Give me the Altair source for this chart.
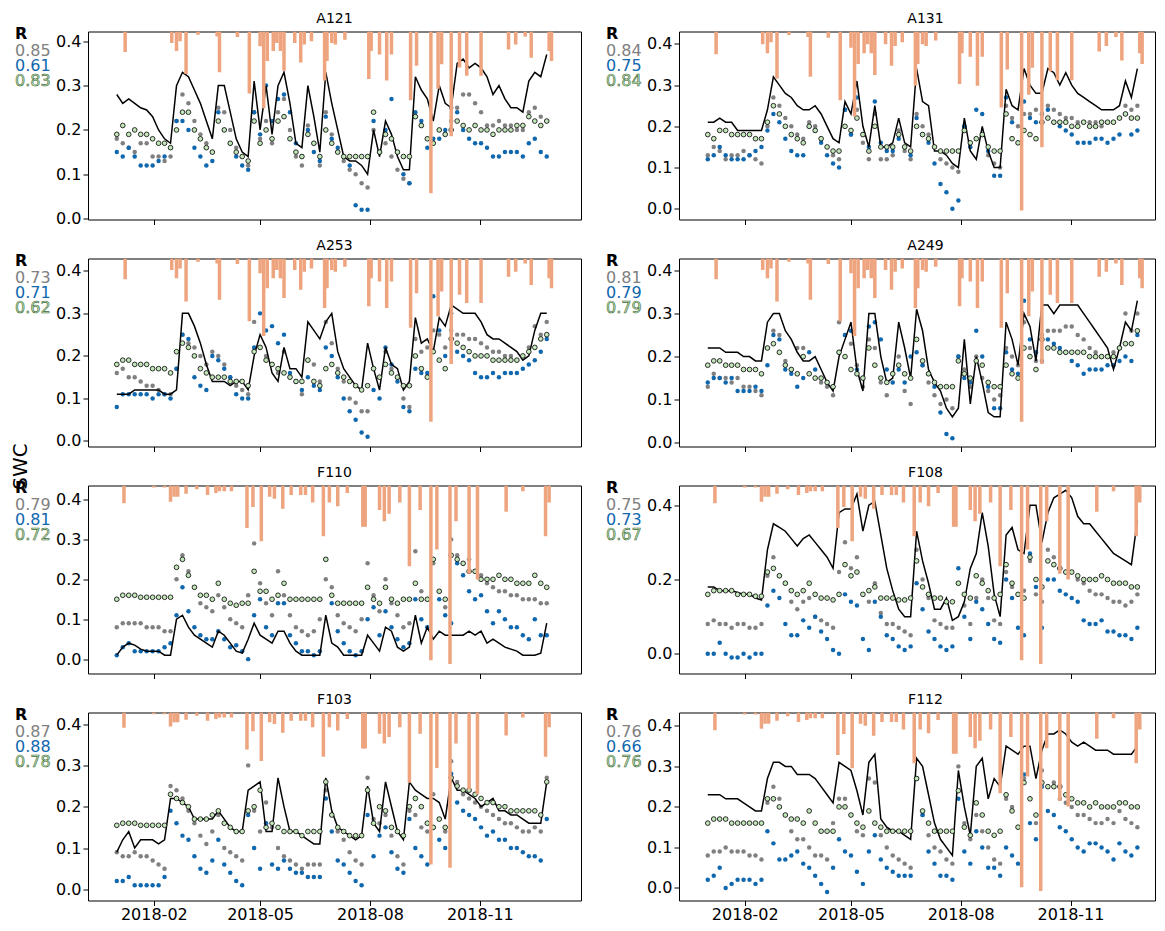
import altair as alt
import pandas as pd

# ---------------- sampling days (days after 2018-01-01) ----------------
DAYS = list(range(0, 361, 5))
START = pd.Timestamp("2018-01-01")

# ---------------- A121 ----------------
a121_line = [.28,.26,.27,.26,.25,.245,.23,.20,.18,.17, .30,.33,.32,.29,.26,.22,.18,.30,.30,.24,
             .18,.15,.14,.31,.20,.30,.19,.30,.33,.26, .17,.16,.30,.23,.15,.33,.26,.20,.14,.13,
             .13,.12,.10,.20,.14,.22,.19,.14,.11,.11, .32,.29,.27,.22,.30,.26,.25,.35,.36,.34,
             .35,.34,.32,.28,.30,.27,.25,.25,.24,.31, .33,.32,.37]
a121_grey = [.18,.17,.16,.15,.17,.17,.14,.14,.13,.14, .22,.28,.26,.22,.19,.17,.15,.25,.24,.20,
             .16,.14,.12,.24,.18,.22,.17,.24,.27,.20, .14,.12,.21,.17,.12,.24,.19,.15,.13,.11,
             .10,.08,.07,.20,.15,.17,.14,.11,.09,.08, .23,.21,.18,.17,.20,.19,.22,.25,.28,.28,
             .26,.24,.21,.21,.22,.21,.21,.20,.20,.24, .25,.23,.22]
a121_blue = [.15,.14,.16,.14,.12,.12,.12,.13,.14,.16, .22,.22,.20,.16,.14,.12,.13,.24,.20,.17,
             .14,.12,.11,.24,.19,.30,.22,.27,.28,.24, .17,.14,.20,.15,.13,.23,.18,.16,.14,.12,
             .03,.02,.02,.22,.15,.20,.27,.15,.10,.08, .24,.22,.16,.18,.18,.20,.25,.24,.20,.18,
             .17,.17,.16,.14,.14,.15,.15,.15,.14,.17, .18,.15,.14]
a121_green = [.19,.21,.19,.20,.19,.19,.18,.17,.17,.16, .20,.24,.24,.20,.18,.16,.15,.22,.20,.17,
              .15,.14,.13,.22,.17,.20,.18,.22,.23,.18, .15,.14,.19,.17,.14,.20,.17,.15,.14,.14,
              .14,.14,.14,.24,.15,.19,.18,.15,.14,.14, .23,.21,.18,.17,.20,.19,.20,.22,.21,.20,
              .21,.20,.20,.19,.20,.20,.20,.21,.21,.23, .22,.21,.22]

# ---------------- A131 ----------------
a131_line = [.21,.21,.22,.21,.21,.19,.19,.19,.19,.19, .24,.32,.30,.28,.27,.25,.24,.24,.25,.23,
             .20,.17,.16,.26,.23,.31,.20,.15,.25, .15,.15,.16,.22,.16,.15,.34,.26,.25,.14,
             .14,.13,.11,.10,.22,.14,.12,.20,.14,.10, .10,.29,.25,.24,.34,.30,.28,.28,.34,.33,
             .30,.33,.30,.28,.27,.26,.25,.24,.24,.24, .25,.31,.27,.34]
a131_grey = [.13,.15,.14,.12,.13,.13,.14,.13,.12,.11, .20,.27,.25,.22,.20,.18,.17,.21,.20,.17,
             .15,.13,.12,.24,.18,.24,.16,.12,.23, .12,.12,.13,.19,.14,.12,.23,.20,.18,.15,
             .12,.11,.10,.09,.20,.15,.17,.18,.13,.11, .10,.25,.22,.20,.23,.23,.24,.23,.25,.24,
             .23,.22,.22,.21,.21,.21,.21,.20,.21,.21, .22,.25,.24,.25]
a131_blue = [.12,.13,.15,.13,.12,.12,.12,.13,.14,.15, .19,.23,.21,.17,.14,.13,.13,.20,.19,.16,
             .13,.11,.10,.24,.18,.27,.18,.15,.26, .16,.14,.14,.17,.15,.13,.22,.18,.16,.11,
             .06,.04,.00,.02,.20,.15,.24,.23,.14,.08, .08,.27,.21,.16,.26,.22,.21,.23,.24,.21,
             .20,.19,.18,.16,.16,.16,.17,.17,.16,.17, .18,.23,.18,.19]
a131_green = [.18,.17,.19,.19,.18,.18,.18,.18,.17,.17, .21,.25,.23,.20,.18,.17,.16,.20,.19,.17,
              .15,.14,.14,.20,.19,.22,.18,.14,.20, .15,.15,.15,.18,.15,.14,.20,.18,.17,.15,
              .14,.14,.14,.14,.19,.16,.17,.18,.15,.14, .14,.23,.17,.16,.19,.18,.17,.21,.22,.21,
              .21,.21,.20,.20,.21,.20,.20,.21,.21,.21, .22,.23,.22,.22]

# ---------------- A253 ----------------
a253_line = [.11,.11,.11,.12,.12,.12,.12,.12,.11,.11, .12,.30,.30,.27,.23,.18,.14,.14,.14,.13,
             .14,.14,.12,.20,.25,.22,.16,.14,.22,.17, .17,.15,.28,.26,.24,.28,.30,.21,.17,.15,
             .13,.12,.23,.17,.12,.22,.18,.17,.12,.14, .29,.23,.24,.21,.29,.27,.32,.31,.30,.30,
             .30,.28,.25,.24,.24,.23,.22,.21,.19,.20, .26,.30,.30]
a253_grey = [.16,.17,.15,.15,.14,.13,.13,.12,.11,.11, .17,.25,.23,.22,.20,.18,.21,.20,.18,.15,
             .13,.12,.11,.28,.22,.20,.18,.16,.21,.15, .14,.11,.19,.18,.14,.28,.23,.17,.14,.10,
             .09,.07,.07,.17,.15,.21,.17,.15,.10,.08, .24,.21,.22,.26,.25,.22,.26,.25,.25,.24,
             .24,.23,.22,.21,.21,.20,.20,.19,.20,.22, .27,.25,.28]
a253_blue = [.08,.11,.11,.11,.11,.11,.10,.11,.11,.10, .17,.25,.24,.15,.13,.12,.20,.19,.17,.15,
             .11,.10,.10,.22,.30,.26,.27,.23,.25,.16, .14,.12,.15,.13,.12,.22,.20,.15,.10,.07,
             .05,.02,.01,.12,.10,.22,.18,.14,.08,.07, .17,.16,.16,.34,.26,.20,.30,.21,.20,.19,
             .16,.15,.15,.16,.15,.16,.16,.16,.17,.18, .19,.21,.24]
a253_green = [.18,.19,.19,.18,.18,.18,.17,.17,.17,.16, .21,.23,.22,.20,.17,.16,.15,.15,.15,.14,
              .14,.14,.13,.21,.22,.19,.18,.17,.16,.15, .14,.14,.19,.14,.13,.17,.18,.16,.15,.14,
              .13,.12,.13,.17,.15,.18,.16,.15,.13,.13, .20,.17,.15,.21,.19,.17,.24,.23,.22,.21,
              .20,.20,.20,.19,.19,.19,.19,.19,.20,.21, .22,.24,.25]

# ---------------- A249 ----------------
a249_line = [.22,.22,.22,.21,.21,.21,.20,.20,.19,.19, .28,.30,.30,.26,.24,.21,.19,.19,.20,.17,
             .14,.12,.20,.24,.28,.17,.12,.30,.30,.20, .14,.15,.28,.22,.15,.31,.26,.17,.14,.12,
             .08,.06,.08,.24,.09,.20,.14,.07,.06,.06, .28,.24,.18,.30,.27,.19,.32,.32,.30,.32,
             .32,.32,.32,.30,.28,.26,.24,.22,.17,.22, .28,.26,.33]
a249_grey = [.13,.16,.15,.15,.14,.15,.13,.13,.12,.11, .22,.26,.25,.19,.17,.22,.22,.16,.15,.14,
             .13,.11,.28,.25,.23,.18,.13,.24,.22,.14, .11,.16,.20,.12,.09,.24,.18,.14,.11,.09,
             .10,.08,.20,.17,.13,.20,.15,.12,.10,.11, .22,.20,.18,.28,.22,.19,.25,.26,.26,.26,
             .27,.27,.25,.24,.22,.21,.20,.20,.21,.22, .30,.26,.30]
a249_blue = [.14,.15,.15,.14,.15,.12,.12,.12,.13,.12, .18,.25,.24,.17,.16,.13,.15,.21,.17,.15,
             .14,.13,.21,.25,.26,.17,.15,.27,.28,.24, .17,.14,.17,.14,.20,.21,.18,.16,.13,.07,
             .02,.01,.20,.15,.14,.26,.20,.13,.08,.08, .21,.17,.16,.33,.24,.21,.19,.24,.23,.22,
             .21,.19,.18,.16,.17,.17,.17,.18,.18,.19, .20,.19,.25]
a249_green = [.18,.19,.19,.18,.18,.18,.17,.17,.17,.16, .22,.23,.21,.18,.17,.16,.20,.16,.15,.15,
              .14,.13,.21,.20,.17,.16,.15,.22,.18,.15, .14,.16,.18,.16,.15,.24,.19,.16,.14,.13,
              .13,.13,.19,.16,.15,.19,.18,.14,.13,.13, .18,.16,.15,.22,.20,.17,.24,.22,.22,.21,
              .21,.21,.21,.21,.20,.20,.20,.20,.20,.22, .23,.23,.26]

# ---------------- F110 ----------------
f110_line = [.01,.03,.04,.035,.025,.02,.02,.02,.01,.01, .10,.11,.08,.06,.05,.04,.03,.07,.06,.04,
             .02,.015,.05,.09,.06,.05,.04,.07,.07,.04, .02,.01,.01,.01,.01,.11,.04,.03,.01,.01,
             .01,.01,.06,.04,.02,.08,.07,.03,.02,.03, .11,.04,.08,.05,.07,.06,.06,.06,.06,.07,
             .06,.07,.04,.05,.04,.03,.025,.02,.01,.01, .01,.015,.09]
f110_grey = [.08,.09,.09,.09,.09,.08,.08,.08,.07,.07, .20,.26,.22,.18,.14,.13,.12,.16,.13,.10,
             .09,.08,.16,.29,.19,.14,.11,.22,.16,.11, .08,.07,.06,.07,.10,.20,.18,.11,.09,.08,
             .07,.10,.24,.16,.12,.20,.14,.11,.08,.09, .27,.17,.15,.24,.17,.13,.30,.26,.24,.25,
             .22,.21,.19,.18,.17,.17,.16,.16,.15,.15, .15,.14,.14]
f110_blue = [.01,.03,.04,.02,.02,.02,.02,.02,.03,.04, .11,.18,.12,.08,.06,.05,.05,.07,.05,.03,
             .035,.02,.00,.11,.15,.08,.06,.14,.14,.06, .04,.02,.02,.01,.02,.25,.14,.07,.04,.02,
             .01,.02,.10,.13,.06,.12,.08,.05,.03,.04, .15,.10,.08,.25,.15,.11,.09,.24,.21,.17,
             .15,.16,.12,.09,.12,.10,.08,.08,.06,.05, .10,.06,.06]
f110_green = [.15,.16,.16,.16,.155,.155,.155,.155,.155,.155, .23,.25,.21,.18,.16,.16,.15,.19,.15,.14,
              .135,.14,.14,.22,.17,.17,.15,.16,.19,.15, .15,.15,.15,.15,.15,.25,.16,.14,.14,.14,
              .14,.14,.18,.15,.14,.18,.15,.14,.15,.15, .19,.15,.15,.25,.17,.15,.26,.25,.24,.22,
              .22,.20,.20,.20,.21,.20,.20,.19,.19,.19, .21,.19,.18]

# ---------------- F108 ----------------
f108_line = [.18,.18,.17,.17,.17,.165,.16,.16,.15,.145, .28,.35,.34,.33,.31,.29,.31,.32,.30,.28,
             .26,.23,.38,.39,.39,.43,.33,.40, .41,.32,.23,.17,.12,.10,.10,.33,.25,.19,
             .12,.12,.15,.09,.10,.14,.23,.27,.38,.29, .16,.10,.32,.34,.28,.27,.40,.40,.30,.38,
             .42,.43,.44,.42,.37,.35,.35,.33,.31,.29, .27,.26,.25,.24,.36]
f108_grey = [.08,.09,.08,.08,.07,.08,.08,.07,.07,.08, .21,.26,.21,.19,.14,.12,.14,.15,.10,.09,
             .08,.07,.22,.30,.23,.26,.16,.14, .19,.11,.08,.08,.07,.06,.05,.28,.20,.15,
             .09,.08,.07,.07,.19,.13,.08,.15,.20,.15, .09,.08,.22,.18,.16,.17,.25,.16,.14,.28,
             .26,.23,.22,.22,.20,.19,.17,.16,.16,.15, .14,.14,.13,.14,.16]
f108_blue = [.00,.00,.03,.00,-.01,-.01,.00,-.01,.00,.00, .13,.17,.15,.08,.05,.05,.09,.07,.10,.06,
             .04,.01,.00,.16,.14,.13,.04,.01, .14,.10,.05,.04,.02,.01,.02,.19,.12,.06,
             .04,.02,.01,.02,.23,.10,.04,.14,.12,.08, .04,.03,.20,.15,.07,.05,.27,.18,.07,.20,
             .20,.17,.16,.15,.14,.09,.08,.08,.09,.06, .06,.05,.05,.04,.07]
f108_green = [.16,.17,.17,.17,.17,.16,.16,.16,.155,.155, .22,.23,.21,.19,.17,.16,.17,.19,.16,.15,
              .15,.145,.16,.24,.21,.22,.16,.17, .18,.15,.15,.15,.145,.145,.15,.25,.18,.16,
              .15,.15,.14,.14,.19,.16,.15,.21,.19,.17, .15,.16,.24,.19,.16,.15,.26,.20,.18,.25,
              .24,.23,.22,.22,.21,.20,.20,.20,.21,.20, .19,.19,.19,.18,.18]

# ---------------- F103 ----------------
f103_line = [.09,.12,.14,.10,.12,.12,.12,.11,.12,.22, .22,.21,.20,.17,.17,.17,.17,.19,.17,.15,
             .14,.14,.24,.25,.26,.14,.14,.27,.20,.14, .14,.13,.12,.11,.11,.27,.19,.15,.14,.13,
             .12,.13,.25,.16,.14,.26,.20,.14,.12,.26, .24,.23,.22,.22,.21,.17,.27,.24,.24,.23,
             .22,.20,.21,.22,.19,.19,.18,.18,.17,.16, .16,.16,.26]
f103_grey = [.09,.08,.08,.09,.08,.08,.07,.06,.05,.25, .24,.22,.19,.16,.13,.11,.14,.18,.10,.09,
             .08,.07,.30,.19,.14,.21,.15,.10,.08,.07, .06,.05,.06,.06,.06,.24,.18,.14,.12,.09,
             .07,.06,.27,.17,.16,.18,.13,.08,.06,.19, .18,.15,.14,.23,.17,.14,.31,.26,.23,.22,
             .21,.20,.19,.18,.17,.16,.16,.15,.14,.14, .15,.14,.27]
f103_blue = [.02,.02,.03,.01,.01,.01,.01,.01,.03,.19, .16,.13,.12,.08,.05,.04,.07,.12,.06,.04,
             .02,.01,.18,.10,.05,.16,.06,.05,.07,.05, .04,.04,.03,.03,.03,.22,.14,.07,.06,.04,
             .02,.01,.18,.08,.13,.15,.09,.05,.04,.17, .10,.08,.06,.15,.12,.10,.28,.21,.19,.18,
             .17,.15,.13,.14,.12,.12,.10,.10,.09,.08, .08,.07,.17]
f103_green = [.155,.16,.16,.16,.155,.155,.155,.155,.155,.23, .22,.21,.20,.17,.17,.17,.18,.19,.16,.15,
              .14,.14,.19,.20,.24,.15,.16,.15,.14,.14, .14,.13,.14,.14,.14,.26,.18,.15,.14,.13,
              .13,.13,.24,.16,.20,.19,.15,.14,.13,.20, .22,.20,.16,.15,.17,.15,.27,.25,.24,.24,
              .23,.22,.21,.21,.20,.20,.19,.19,.19,.19, .19,.18,.26]

# ---------------- F112 ----------------
f112_line = [.23,.23,.23,.22,.22,.22,.21,.20,.19,.19, .27,.31,.31,.30,.30,.28,.28,.28,.27,.25,
             .23,.21,.31,.30,.29,.24,.18,.31,.33,.17, .15,.14,.14,.13,.12,.32,.30,.23,.16,.12,
             .10,.08,.29,.20,.13,.30,.32,.22,.27,.25, .35,.34,.33,.35,.35,.27,.34,.38,.38,.39,
             .38,.36,.35,.36,.35,.34,.34,.34,.33,.33, .33,.33,.35]
f112_grey = [.08,.09,.09,.10,.09,.09,.09,.08,.08,.07, .21,.25,.22,.18,.14,.12,.12,.10,.08,.08,
             .07,.16,.22,.22,.18,.14,.13,.27,.26,.13, .10,.08,.07,.06,.05,.27,.18,.13,.10,.09,
             .07,.06,.30,.16,.12,.18,.14,.10,.07,.06, .22,.20,.15,.27,.22,.16,.29,.25,.26,.22,
             .21,.20,.18,.18,.17,.16,.16,.17,.16,.19, .17,.16,.15]
f112_blue = [.02,.03,.05,.00,.01,.02,.02,.02,.01,.02, .14,.11,.07,.07,.08,.09,.06,.05,.03,.01,
             -.01,.05,.12,.09,.08,.04,.01,.09,.13,.07, .05,.04,.03,.03,.03,.27,.18,.09,.06,.03,
             .03,.02,.22,.09,.06,.14,.10,.05,.05,.03, .10,.08,.06,.28,.16,.12,.25,.19,.18,.15,
             .14,.12,.10,.09,.11,.11,.10,.09,.07,.11, .09,.08,.10]
f112_green = [.16,.17,.17,.17,.16,.16,.16,.16,.16,.16, .22,.22,.20,.18,.17,.17,.16,.19,.16,.14,
              .14,.14,.20,.20,.18,.16,.15,.19,.16,.15, .14,.14,.14,.14,.14,.27,.19,.16,.14,.14,
              .14,.14,.24,.15,.13,.21,.18,.14,.13,.14, .23,.19,.15,.26,.22,.18,.26,.25,.25,.25,
              .23,.22,.21,.21,.20,.21,.20,.20,.20,.21, .21,.20,.20]

# ---------------- rainfall (inverted bars) ----------------
rain_a_days = [7, 46, 50, 53, 58, 68, 84, 86, 101, 111, 120, 123, 126, 131, 134, 137, 140, 149, 154, 157,
               163, 174, 176, 180, 183, 191, 211, 213, 220, 226, 230, 246, 251, 263, 269, 272, 280, 287,
               293, 305, 328, 334, 342, 347, 362, 364]
rain_a_mm = [6.3, 3.5, 6, 3, 13, 1, 1.5, 12.5, 1.7, 19, 4.5, 23.5, 9, 6, 3.5, 6, 12, 3.5, 9.5, 4,
             3, 15, 9, 3.5, 4, 2.5, 14.5, 6, 7, 15, 7, 21, 10.5, 49.5, 17.5, 10, 32, 11,
             13.5, 13.5, 5.5, 4, 1.5, 8, 6, 9]
rain_f_days = [6, 31, 40, 45, 48, 51, 58, 67, 76, 83, 86, 90, 96, 109, 114, 121, 128, 132, 139, 146,
               154, 158, 164, 173, 178, 185, 193, 206, 208, 220, 224, 228, 237, 245, 254, 263, 268, 279,
               284, 295, 302, 326, 340, 359, 362]
rain_f_mm = [4.7, 0.5, 0.5, 4.3, 3, 3, 2.2, 1, 2.5, 2, 1.5, 1.5, 1.5, 11.3, 5.7, 14.8, 3, 3.5, 6.2, 2.5,
             2.5, 2.5, 4.5, 13.5, 4.5, 5.5, 2, 11, 11, 6.5, 9.5, 7.5, 4.5, 21.5, 6.5, 46.5, 17, 47.5,
             9.5, 23.5, 25, 7, 1.5, 13.5, 4.5]

# ---------------- panel settings ----------------
names = ["A121", "A131", "A253", "A249", "F110", "F108", "F103", "F112"]
r_values = [["0.85", "0.61", "0.83"], ["0.84", "0.75", "0.84"], ["0.73", "0.71", "0.62"],
            ["0.81", "0.79", "0.79"], ["0.79", "0.81", "0.72"], ["0.75", "0.73", "0.67"],
            ["0.87", "0.88", "0.78"], ["0.76", "0.66", "0.76"]]
y_domains = [[-0.002, 0.422], [-0.026, 0.430], [-0.013, 0.429], [-0.009, 0.428],
             [-0.036, 0.435], [-0.053, 0.453], [-0.027, 0.428], [-0.031, 0.433]]
rain_tops = [57.5, 52, 57, 57, 50, 50, 57.5, 50]
series = [
    (a121_line, a121_grey, a121_blue, a121_green),
    (a131_line, a131_grey, a131_blue, a131_green),
    (a253_line, a253_grey, a253_blue, a253_green),
    (a249_line, a249_grey, a249_blue, a249_green),
    (f110_line, f110_grey, f110_blue, f110_green),
    (f108_line, f108_grey, f108_blue, f108_green),
    (f103_line, f103_grey, f103_blue, f103_green),
    (f112_line, f112_grey, f112_blue, f112_green),
]

GREY = "#808080"
BLUE = "#0f67ae"
GREEN_FILL = "#c3e6ba"
RAIN = "#eda47f"
FONT = "DejaVu Sans"
W_LEFT, W_RIGHT, H = 493, 476, 188

X_START = alt.DateTime(year=2017, month=12, date=12, hours=2, utc=True)
X_END_LEFT = alt.DateTime(year=2019, month=1, date=20, hours=12, utc=True)
X_END_RIGHT = alt.DateTime(year=2019, month=1, date=6, hours=14, utc=True)
XTICKS = [alt.DateTime(year=2018, month=m, date=1, utc=True) for m in (2, 5, 8, 11)]


def to_dates(days):
    return [(START + pd.Timedelta(days=d)).strftime("%Y-%m-%d") for d in days]


def frame(vals):
    pairs = list(zip(DAYS, vals))
    return pd.DataFrame({"date": to_dates([p[0] for p in pairs]), "v": [p[1] for p in pairs]})


def label(text, x, y, **kw):
    return alt.Chart(pd.DataFrame({"t": [text]})).mark_text(font=FONT, **kw).encode(
        text="t:N", x=alt.value(x), y=alt.value(y))


def panel(i):
    line, grey, blue, green = series[i]
    bottom = i >= 6
    right = i % 2 == 1
    width = W_RIGHT if right else W_LEFT
    yticks = [0.0, 0.2, 0.4] if names[i] == "F108" else [0.0, 0.1, 0.2, 0.3, 0.4]
    xs = alt.Scale(type="utc", domain=[X_START, X_END_RIGHT if right else X_END_LEFT], nice=False)
    xa = alt.Axis(values=XTICKS, format="%Y-%m", labels=bottom, title=None,
                  tickSize=5, labelPadding=1)
    ys = alt.Scale(domain=y_domains[i], nice=False, zero=False)
    ya = alt.Axis(values=yticks, format=".1f", title=None, tickSize=5, labelPadding=2)
    x = alt.X("date:T", scale=xs, axis=xa)
    y = alt.Y("v:Q", scale=ys, axis=ya)

    g = alt.Chart(frame(grey)).mark_circle(size=20, color=GREY, opacity=1, clip=True).encode(x=x, y=y)
    b = alt.Chart(frame(blue)).mark_circle(size=20, color=BLUE, opacity=1, clip=True).encode(x=x, y=y)
    ln = alt.Chart(frame(line)).mark_line(color="black", strokeWidth=1.5, clip=True).encode(x=x, y=y)
    gr = alt.Chart(frame(green)).mark_point(shape="circle", filled=True, size=22, fill=GREEN_FILL,
                                             stroke="black", strokeWidth=0.8, opacity=1,
                                             clip=True).encode(x=x, y=y)
    rv = r_values[i]
    texts = [
        label(names[i], W_LEFT / 2, -9, fontSize=14, align="center", baseline="alphabetic", color="black"),
        label("R", -73, 2, fontSize=16, fontWeight="bold", align="left", baseline="middle", color="black"),
        label(rv[0], -73, 19, fontSize=16, align="left", baseline="middle", color=GREY),
        label(rv[1], -73, 34, fontSize=16, align="left", baseline="middle", color=BLUE),
        label(rv[2], -73, 49, fontSize=16, align="left", baseline="middle", color="#bfe3b5",
              stroke="#3f6b3a", strokeWidth=0.6),
    ]
    if names[i] == "F110":
        texts.append(label("SWC", -67, -19, fontSize=20, angle=270, align="center",
                           baseline="middle", color="black"))
    main = alt.layer(g, b, ln, gr, *texts)

    if names[i].startswith("A"):
        rdf = pd.DataFrame({"date": to_dates(rain_a_days), "rain": rain_a_mm})
    else:
        rdf = pd.DataFrame({"date": to_dates(rain_f_days), "rain": rain_f_mm})
    rain = alt.Chart(rdf).mark_bar(size=3.5, color=RAIN, clip=True).encode(
        x=x,
        y=alt.Y("rain:Q", scale=alt.Scale(domain=[0, rain_tops[i]], reverse=True, nice=False),
                axis=None))
    return alt.layer(main, rain).resolve_scale(y="independent").properties(width=width, height=H)


panels = [panel(i) for i in range(8)]

chart = alt.concat(
    *panels, columns=2, spacing={"row": 39, "column": 98}, bounds="flush", align="each"
).properties(
    padding={"left": 2, "top": 2.5, "right": 0, "bottom": 0}
).configure_view(
    stroke="black", strokeWidth=1
).configure_axis(
    labelFont=FONT, labelFontSize=16, labelColor="black", tickColor="black", tickWidth=1,
    domain=False, grid=False
)

chart.save("out.html", embed_options={"renderer": "svg", "actions": False})
